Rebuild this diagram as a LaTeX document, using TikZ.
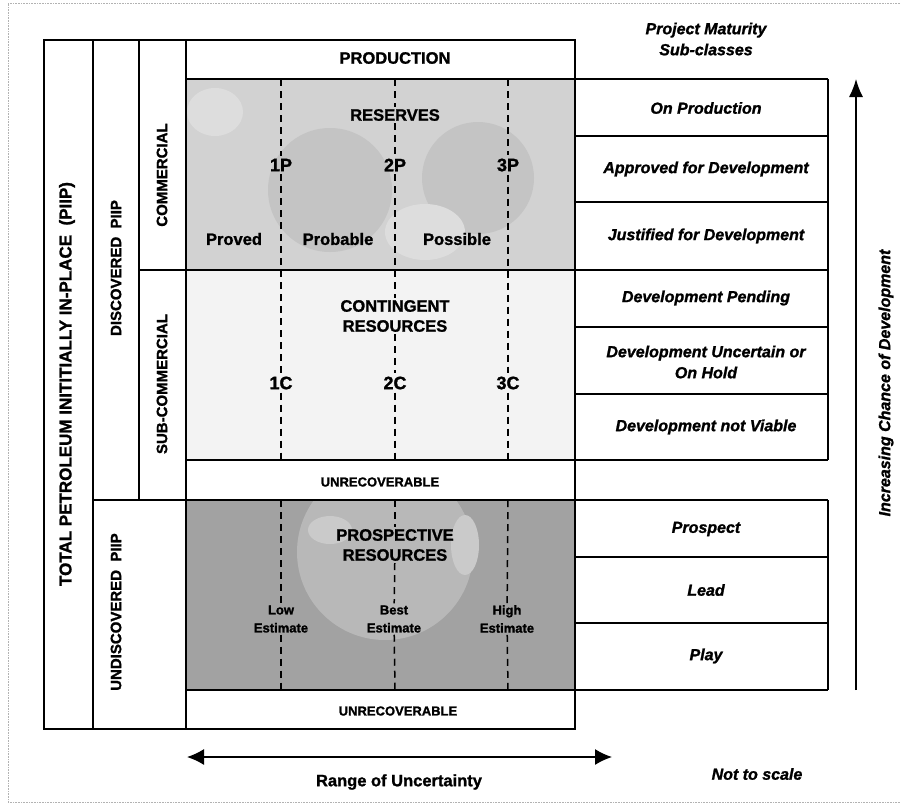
\documentclass[tikz,border=0pt]{standalone}
\usepackage{fontspec}
\setmainfont{Liberation Sans}[BoldFeatures={FakeBold=1.3},BoldItalicFeatures={FakeBold=1.3}]
\usepackage{tikz}
\usetikzlibrary{arrows.meta,positioning}
\definecolor{resgray}{RGB}{210,210,210}
\definecolor{resdark}{RGB}{196,196,196}
\definecolor{congray}{RGB}{243,243,243}
\definecolor{prosgray}{RGB}{162,162,162}
\definecolor{proslight}{RGB}{184,184,184}
\tikzstyle{boxline} = [line width=1.8pt]
\tikzstyle{thinrule} = [line width=1.2pt]
\tikzstyle{cut} = [line width=1.5pt, dash pattern=on 7pt off 5pt]
\tikzstyle{lbl} = [font=\bfseries\fontsize{16.5}{20}\selectfont, align=center, inner sep=2pt]
\tikzstyle{cls} = [font=\bfseries\fontsize{18}{20}\selectfont, inner sep=3pt]
\tikzstyle{smalllbl} = [font=\bfseries\fontsize{13}{18}\selectfont, align=center, inner sep=2pt]
\tikzstyle{sidelbl} = [font=\bfseries\fontsize{15}{18}\selectfont, rotate=90]
\tikzstyle{maturity} = [font=\bfseries\itshape\fontsize{16}{21}\selectfont, align=center]
\tikzstyle{bigarrow} = [line width=1.4pt]

\begin{document}
\begin{tikzpicture}[x=1pt,y=-1pt]
\useasboundingbox (0,0) rectangle (902,804);
% scan border
\draw[gray!60, densely dotted, line width=0.6pt] (900,3) -- (8,3) -- (8,802) -- (900,802);

% Shaded resource areas
\fill[resgray] (186,79) rectangle (575,270);
\fill[congray] (186,270) rectangle (575,460);
\fill[prosgray] (186,500) rectangle (575,690);
\begin{scope}
\clip (186,79) rectangle (575,270);
\fill[resdark] (330,190) circle (62);
\fill[resdark] (478,178) circle (56);
\fill[white!25!resgray] (425,232) ellipse (40 and 28);
\fill[white!25!resgray] (215,112) ellipse (28 and 24);
\end{scope}
\begin{scope}
\clip (186,500) rectangle (575,690);
\fill[proslight] (385,552) circle (88);
\fill[white!25!proslight] (330,530) ellipse (22 and 14);
\fill[white!25!proslight] (465,545) ellipse (14 and 30);
\end{scope}

% Class and category frame
\draw[boxline] (44,40) rectangle (575,729);
\draw[boxline] (93,40) -- (93,729);
\draw[thinrule] (139,40) -- (139,500);
\draw[boxline] (186,40) -- (186,729);
\draw[thinrule] (186,79) -- (828,79);
\draw[thinrule] (575,136) -- (828,136);
\draw[thinrule] (575,202) -- (828,202);
\draw[thinrule] (139,270) -- (828,270);
\draw[thinrule] (575,327) -- (828,327);
\draw[thinrule] (575,394) -- (828,394);
\draw[thinrule] (186,460) -- (828,460);
\draw[thinrule] (93,500) -- (828,500);
\draw[thinrule] (575,557) -- (828,557);
\draw[thinrule] (575,623) -- (828,623);
\draw[thinrule] (186,690) -- (828,690);
\draw[boxline] (828,79) -- (828,460);
\draw[boxline] (828,500) -- (828,690);

% Side labels
\node[sidelbl, font=\bfseries\fontsize{17}{18}\selectfont] (piip) at (67,384) {TOTAL PETROLEUM INITITIALLY IN-PLACE\ \ (PIIP)};
\node[sidelbl] (disc) at (116,268) {DISCOVERED\ \ PIIP};
\node[sidelbl] (undisc) at (116,612) {UNDISCOVERED\ \ PIIP};
\node[sidelbl] (comm) at (162,175) {COMMERCIAL};
\node[sidelbl] (subcomm) at (162,384) {SUB-COMMERCIAL};

% Resource classes
\node[lbl] (prod) at (395,58) {PRODUCTION};
\node[lbl] (res) at (395,115) {RESERVES};
\node[cls] (p1) at (281,165) {1P};
\node[cls] (p2) at (395,165) {2P};
\node[cls] (p3) at (508,165) {3P};
\node[lbl] (proved) at (234,239) {Proved};
\node[lbl] (probable) at (338,239) {Probable};
\node[lbl] (possible) at (457,239) {Possible};
\node[lbl] (con) at (395,316) {CONTINGENT\\RESOURCES};
\node[cls] (c1) at (281,383) {1C};
\node[cls] (c2) at (395,383) {2C};
\node[cls] (c3) at (508,383) {3C};
\node[smalllbl] (unrecA) at (380,482) {UNRECOVERABLE};
\node[lbl] (pros) at (395,545) {PROSPECTIVE\\RESOURCES};
\node[smalllbl] (low) at (281,619) {Low\\Estimate};
\node[smalllbl] (best) at (394,619) {Best\\Estimate};
\node[smalllbl] (high) at (507,619) {High\\Estimate};
\node[smalllbl] (unrecB) at (398,711) {UNRECOVERABLE};

% Uncertainty cut-offs
\coordinate (topA) at (281,79);  \coordinate (midA) at (281,460);
\coordinate (lowA) at (281,500); \coordinate (botA) at (281,690);
\coordinate (topB) at (395,79);  \coordinate (midB) at (395,460);
\coordinate (lowB) at (395,500); \coordinate (botB) at (395,690);
\coordinate (topC) at (508,79);  \coordinate (midC) at (508,460);
\coordinate (lowC) at (508,500); \coordinate (botC) at (508,690);
\draw[cut] (topA) -- (p1);
\draw[cut] (p1) -- (c1);
\draw[cut] (c1) -- (midA);
\draw[cut] (lowA) -- (low);
\draw[cut] (low) -- (botA);
\draw[cut] (topB) -- (res);
\draw[cut] (res) -- (p2);
\draw[cut] (p2) -- (con);
\draw[cut] (con) -- (c2);
\draw[cut] (c2) -- (midB);
\draw[cut] (lowB) -- (pros);
\draw[cut] (pros) -- (best);
\draw[cut] (best) -- (botB);
\draw[cut] (topC) -- (p3);
\draw[cut] (p3) -- (c3);
\draw[cut] (c3) -- (midC);
\draw[cut] (lowC) -- (high);
\draw[cut] (high) -- (botC);

% Project maturity sub-classes
\node[maturity] (pms) at (706,39) {Project Maturity\\Sub-classes};
\node[maturity] (onprod) at (706,108) {On Production};
\node[maturity] (approved) at (706,169) {Approved for Development};
\node[maturity] (justified) at (706,236) {Justified for Development};
\node[maturity] (pending) at (706,298) {Development Pending};
\node[maturity] (onhold) at (706,362) {Development Uncertain or\\On Hold};
\node[maturity] (notviable) at (706,427) {Development not Viable};
\node[maturity] (prospect) at (706,529) {Prospect};
\node[maturity] (lead) at (706,590) {Lead};
\node[maturity] (play) at (706,656) {Play};

% Chance and uncertainty axes
\coordinate (chanceLow) at (856,690);
\coordinate (chanceHigh) at (856,79);
\draw[bigarrow, -{Latex[length=18pt,width=14pt]}] (chanceLow) -- (chanceHigh);
\node[maturity, rotate=90] (chance) at (886,383) {Increasing Chance of Development};
\coordinate (uncLeft) at (187,757);
\coordinate (uncRight) at (612,757);
\draw[bigarrow, {Latex[length=17pt,width=16pt]}-{Latex[length=17pt,width=16pt]}] (uncLeft) -- (uncRight);
\node[lbl] (range) at (399,782) {Range of Uncertainty};
\node[maturity] (noscale) at (757,774) {Not to scale};
\end{tikzpicture}
\end{document}
